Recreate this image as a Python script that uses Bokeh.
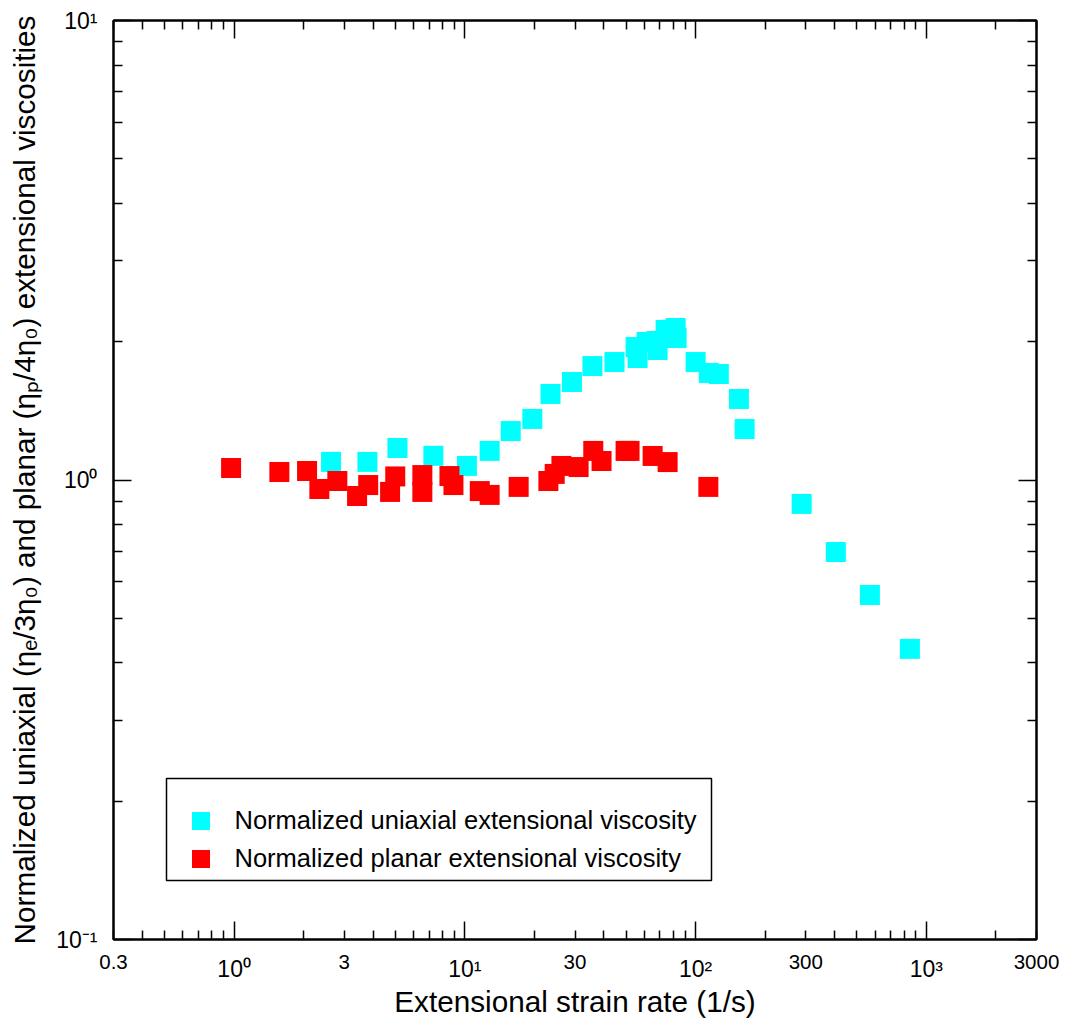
import math
from bokeh.plotting import figure
from bokeh.models import (LogAxis, FixedTicker, Legend, LegendItem,
                          BoxAnnotation, Range1d, ColumnDataSource)
from bokeh.embed import file_html
from bokeh.resources import INLINE

# ---- data ----
uni_rate = [2.63, 3.78, 5.10, 7.30, 10.2, 12.8, 15.8, 19.6, 23.5, 29.1, 35.7, 44.5,
            54.9, 56.0, 61.3, 67.7, 68.4, 74.1, 81.9, 82.7, 100, 114, 126, 154, 163,
            288, 405, 569, 848]
uni_visc = [1.095, 1.095, 1.174, 1.129, 1.073, 1.157, 1.278, 1.358, 1.539, 1.634, 1.770, 1.806,
            1.947, 1.843, 1.997, 2.007, 1.918, 2.121, 2.142, 2.037, 1.806, 1.710, 1.701, 1.501, 1.291,
            0.887, 0.697, 0.562, 0.429]

pla_rate = [0.97, 1.57, 2.07, 2.34, 2.80, 3.41, 3.81, 4.74, 4.99, 6.54, 6.54, 8.57, 8.92,
            11.6, 12.8, 17.1, 23.0, 24.5, 26.2, 31.1, 36.0, 39.1, 49.7, 51.7, 65.1, 75.6, 113.5]
pla_visc = [1.062, 1.041, 1.046, 0.956, 0.995, 0.923, 0.975, 0.942, 1.018, 1.025, 0.942, 1.020, 0.975,
            0.946, 0.928, 0.966, 0.995, 1.031, 1.073, 1.067, 1.157, 1.100, 1.157, 1.157, 1.128, 1.094, 0.966]

uni_label = "Normalized uniaxial extensional viscosity"
pla_label = "Normalized planar extensional viscosity"
x_title = "Extensional strain rate (1/s)"
y_title = "Normalized uniaxial (\u03b7\u2091/3\u03b7\u2080) and planar (\u03b7\u209a/4\u03b7\u2080) extensional viscosities"

x_range = (0.3, 3000)
y_range = (0.1, 10)
x_pow_ticks = [1, 10, 100, 1000]
x_pow_labels = ["10\u2070", "10\u00b9", "10\u00b2", "10\u00b3"]
x_plain_ticks = [0.3, 3, 30, 300, 3000]
x_plain_labels = ["0.3", "3", "30", "300", "3000"]
y_pow_ticks = [0.1, 1, 10]
y_pow_labels = ["10\u207b\u00b9", "10\u2070", "10\u00b9"]

x_minor = [m * 10 ** k for k in range(-1, 4) for m in range(2, 10)
           if x_range[0] <= m * 10 ** k <= x_range[1]]
y_minor = [m * 10 ** k for k in range(-1, 1) for m in range(2, 10)]

FONT = "Liberation Sans"

p = figure(width=1067, height=1021, x_axis_type="log", y_axis_type="log",
           x_range=Range1d(*x_range), y_range=Range1d(*y_range),
           output_backend="svg", toolbar_location=None,
           min_border_left=113, min_border_right=31, min_border_top=20, min_border_bottom=82)
p.grid.visible = False
p.outline_line_color = "black"
p.outline_line_width = 2
p.background_fill_color = "white"
p.border_fill_color = "white"


def tick_axis(ax, ticks, minor):
    """axis that only draws the frame line and inward ticks"""
    ax.ticker = FixedTicker(ticks=ticks, minor_ticks=minor)
    ax.major_tick_in = 18
    ax.major_tick_out = 0
    ax.minor_tick_in = 9
    ax.minor_tick_out = 0
    ax.axis_line_width = 2
    ax.axis_line_color = "black"
    ax.major_tick_line_width = 1.5
    ax.minor_tick_line_width = 1.5
    ax.major_tick_line_color = "black"
    ax.minor_tick_line_color = "black"
    ax.major_label_overrides = {t: "" for t in ticks}
    ax.major_label_text_color = None
    ax.major_label_text_font_size = "1px"
    ax.major_label_standoff = 0


def label_axis(ax, ticks, labels, size, standoff):
    """axis that only draws tick labels"""
    ax.ticker = FixedTicker(ticks=ticks, minor_ticks=[])
    ax.axis_line_color = None
    ax.major_tick_line_color = None
    ax.minor_tick_line_color = None
    ax.major_tick_in = 0
    ax.major_tick_out = 0
    ax.minor_tick_in = 0
    ax.minor_tick_out = 0
    ax.major_label_overrides = dict(zip(ticks, labels))
    ax.major_label_text_font = FONT
    ax.major_label_text_font_size = size
    ax.major_label_text_color = "black"
    ax.major_label_standoff = standoff


bottom_ticks = p.xaxis[0]
left_ticks = p.yaxis[0]
tick_axis(bottom_ticks, x_pow_ticks, x_minor)
tick_axis(left_ticks, y_pow_ticks, y_minor)

top_ax = LogAxis()
tick_axis(top_ax, x_pow_ticks, x_minor)
p.add_layout(top_ax, "above")
right_ax = LogAxis()
tick_axis(right_ax, y_pow_ticks, y_minor)
p.add_layout(right_ax, "right")

# x tick labels: plain numbers, then powers of ten sharing the same band
x_plain_ax = LogAxis()
label_axis(x_plain_ax, x_plain_ticks, x_plain_labels, "20.5px", 15)
p.add_layout(x_plain_ax, "below")
x_pow_ax = LogAxis()
label_axis(x_pow_ax, x_pow_ticks, x_pow_labels, "23px", -16)
x_pow_ax.axis_label = x_title
x_pow_ax.axis_label_text_font = FONT
x_pow_ax.axis_label_text_font_size = "29.7px"
x_pow_ax.axis_label_text_font_style = "normal"
x_pow_ax.axis_label_text_color = "black"
x_pow_ax.axis_label_standoff = 0
p.add_layout(x_pow_ax, "below")

# y tick labels and title
y_pow_ax = LogAxis()
label_axis(y_pow_ax, y_pow_ticks, y_pow_labels, "23px", 16)
y_pow_ax.axis_label = y_title
y_pow_ax.axis_label_text_font = FONT
y_pow_ax.axis_label_text_font_size = "29.7px"
y_pow_ax.axis_label_text_font_style = "normal"
y_pow_ax.axis_label_text_color = "black"
y_pow_ax.axis_label_standoff = 12
p.add_layout(y_pow_ax, "left")

src_u = ColumnDataSource(dict(x=uni_rate, y=uni_visc))
src_p = ColumnDataSource(dict(x=pla_rate, y=pla_visc))
r_u = p.scatter("x", "y", source=src_u, marker="square", size=20,
                fill_color="#00FFFF", line_color=None)
r_p = p.scatter("x", "y", source=src_p, marker="square", size=20,
                fill_color="#FF0000", line_color=None)

# legend frame
p.add_layout(BoxAnnotation(left=53, right=598, top=161, bottom=59,
                           left_units="screen", right_units="screen",
                           top_units="screen", bottom_units="screen",
                           fill_alpha=0, fill_color=None,
                           line_color="black", line_alpha=1.0, line_width=1.5))


def one_legend(label, renderer, loc):
    lg = Legend(items=[LegendItem(label=label, renderers=[renderer])],
                location=loc, glyph_width=45, glyph_height=45,
                padding=0, margin=0, spacing=0, label_standoff=12,
                border_line_color=None, background_fill_alpha=0,
                label_text_font=FONT, label_text_font_size="25.5px",
                label_text_color="black")
    p.add_layout(lg)


one_legend(uni_label, r_u, (64.5, 96.5))
one_legend(pla_label, r_p, (64.5, 57.8))

open("out.html", "w").write(file_html(p, INLINE))
